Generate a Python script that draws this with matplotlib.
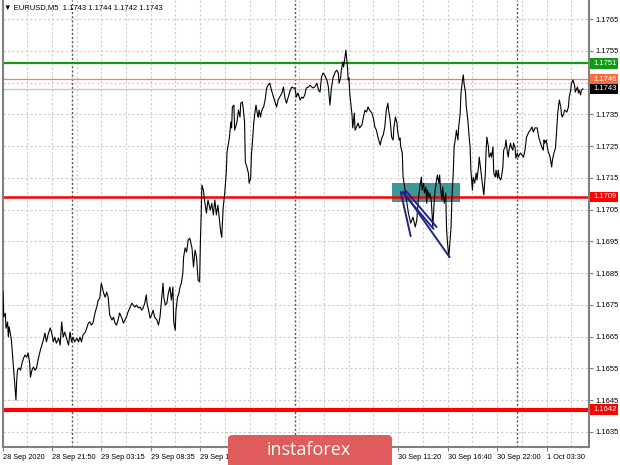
import matplotlib
matplotlib.use("Agg")
import matplotlib.pyplot as plt
from matplotlib.patches import FancyBboxPatch, Rectangle

plt.rcParams['font.family'] = ['Liberation Sans', 'DejaVu Sans']

# EURUSD M5 closes (x = bar number from the left edge)
bars_a = [0, 1, 3, 4, 6, 7, 8, 10, 11, 13,
          14, 17, 18, 19, 21, 23, 25, 27, 29, 31,
          33, 35, 36, 38, 40, 42, 44, 46, 49, 51,
          53, 55, 57, 59, 62, 64, 66, 68, 70, 73,
          75, 77, 79, 81, 84, 86, 88, 90, 92, 94,
          97, 99, 101, 103, 105, 108, 110, 112, 114, 116,
          118, 121, 123, 125, 127, 129, 132, 134, 136, 138]
close_a = [1.16791, 1.16712, 1.16723, 1.16676, 1.16696, 1.16649, 1.16681, 1.16655, 1.16639, 1.16576,
           1.16544, 1.16450, 1.16513, 1.16544, 1.16551, 1.16544, 1.16566, 1.16582, 1.16592, 1.16585,
           1.16598, 1.16566, 1.16522, 1.16544, 1.16554, 1.16544, 1.16551, 1.16576, 1.16607, 1.16623,
           1.16639, 1.16661, 1.16633, 1.16655, 1.16677, 1.16661, 1.16633, 1.16648, 1.16629, 1.16645,
           1.16623, 1.16696, 1.16648, 1.16664, 1.16639, 1.16623, 1.16664, 1.16633, 1.16648, 1.16633,
           1.16645, 1.16633, 1.16648, 1.16633, 1.16655, 1.16664, 1.16677, 1.16692, 1.16696, 1.16686,
           1.16692, 1.16727, 1.16743, 1.16765, 1.16771, 1.16818, 1.16787, 1.16774, 1.16790, 1.16774]

bars_b = [140, 143, 145, 147, 149, 151, 153, 156, 158, 160,
          162, 164, 167, 169, 171, 173, 175, 178, 180, 182,
          184, 186, 188, 189, 191, 193, 195, 197, 199, 202,
          204, 206, 208, 210, 211, 213, 215, 217, 219, 221,
          223, 224, 226, 227, 229, 231, 232, 234, 236, 237,
          239, 241, 243, 245, 248, 250, 252, 254, 256, 258,
          259, 260, 261, 263, 264, 265, 267, 269, 272, 274,
          276, 278, 280, 282, 285, 286, 287, 289, 291, 293,
          294]
close_b = [1.16718, 1.16702, 1.16711, 1.16692, 1.16686, 1.16702, 1.16724, 1.16708, 1.16692, 1.16702,
           1.16711, 1.16727, 1.16743, 1.16755, 1.16749, 1.16743, 1.16749, 1.16740, 1.16743, 1.16733,
           1.16740, 1.16755, 1.16781, 1.16755, 1.16733, 1.16708, 1.16718, 1.16733, 1.16711, 1.16702,
           1.16686, 1.16711, 1.16765, 1.16818, 1.16774, 1.16749, 1.16755, 1.16787, 1.16806, 1.16765,
           1.16806, 1.16696, 1.16670, 1.16733, 1.16774, 1.16787, 1.16803, 1.16818, 1.16850, 1.16900,
           1.16929, 1.16916, 1.16954, 1.16960, 1.16929, 1.16869, 1.16922, 1.16900, 1.16828, 1.16822,
           1.16944, 1.17026, 1.17127, 1.17111, 1.17089, 1.17070, 1.17039, 1.17080, 1.17048, 1.17070,
           1.17033, 1.17080, 1.17033, 1.17064, 1.16995, 1.16976, 1.16963, 1.17058, 1.17102, 1.17168,
           1.17231]

bars_c = [297, 299, 300, 301, 303, 304, 306, 307, 309, 311,
          312, 314, 315, 317, 318, 320, 322, 323, 325, 326,
          328, 329, 331, 332, 334, 335, 336, 338, 339, 341,
          342, 344, 346, 348, 350, 353, 355, 357, 359, 361,
          363, 366, 368, 370, 372, 374, 377, 379, 381, 383,
          385, 387, 390, 392, 394, 396, 398, 401, 403, 405,
          407, 409, 412, 414, 416, 418, 420, 422, 425, 427,
          429, 431, 433, 436, 438, 440, 441, 443, 444, 446,
          447, 450, 452, 453, 454, 455, 458, 459, 461, 462,
          464, 466, 468, 471, 473, 475, 477, 479, 481, 484,
          486, 488, 490, 492, 495, 497, 499]
close_c = [1.17275, 1.17326, 1.17307, 1.17373, 1.17379, 1.17300, 1.17316, 1.17326, 1.17363, 1.17341,
           1.17385, 1.17389, 1.17373, 1.17326, 1.17200, 1.17184, 1.17165, 1.17133, 1.17149, 1.17222,
           1.17285, 1.17322, 1.17363, 1.17379, 1.17348, 1.17341, 1.17363, 1.17341, 1.17357, 1.17370,
           1.17373, 1.17395, 1.17433, 1.17442, 1.17448, 1.17420, 1.17404, 1.17389, 1.17373, 1.17395,
           1.17404, 1.17417, 1.17436, 1.17401, 1.17385, 1.17401, 1.17426, 1.17436, 1.17433, 1.17433,
           1.17404, 1.17417, 1.17395, 1.17404, 1.17401, 1.17411, 1.17433, 1.17436, 1.17442, 1.17436,
           1.17433, 1.17436, 1.17448, 1.17426, 1.17420, 1.17467, 1.17480, 1.17474, 1.17458, 1.17436,
           1.17379, 1.17433, 1.17464, 1.17483, 1.17489, 1.17480, 1.17448, 1.17464, 1.17489, 1.17515,
           1.17499, 1.17552, 1.17499, 1.17458, 1.17464, 1.17417, 1.17348, 1.17307, 1.17354, 1.17300,
           1.17310, 1.17322, 1.17307, 1.17316, 1.17341, 1.17363, 1.17357, 1.17373, 1.17363, 1.17354,
           1.17338, 1.17310, 1.17300, 1.17278, 1.17253, 1.17275, 1.17285]

bars_d = [501, 503, 505, 506, 508, 510, 512, 513, 515, 517,
          518, 520, 521, 522, 524, 525, 527, 528, 530, 532,
          535, 538, 541, 543, 545, 547, 549, 550, 552, 553,
          555, 556, 557, 559, 560, 562, 564, 566, 567, 569,
          570, 572, 573, 574, 576, 577, 579, 581, 582, 583,
          585, 586, 588, 589, 591, 592, 594, 595, 597, 598,
          600, 601, 603, 604, 605, 607, 608, 610, 612]
close_d = [1.17310, 1.17363, 1.17385, 1.17363, 1.17332, 1.17278, 1.17269, 1.17310, 1.17341, 1.17322,
           1.17294, 1.17269, 1.17275, 1.17247, 1.17228, 1.17152, 1.17121, 1.17102, 1.17070, 1.17039,
           1.17007, 1.17026, 1.16995, 1.17017, 1.17080, 1.17121, 1.17152, 1.17111, 1.17133, 1.17102,
           1.17121, 1.17070, 1.17111, 1.17089, 1.17102, 1.17080, 1.16995, 1.17080, 1.17111, 1.17143,
           1.17159, 1.17133, 1.17159, 1.17121, 1.17080, 1.17121, 1.17070, 1.17102, 1.16995, 1.16954,
           1.16900, 1.16932, 1.16995, 1.17080, 1.17174, 1.17247, 1.17278, 1.17300, 1.17269, 1.17310,
           1.17354, 1.17417, 1.17458, 1.17474, 1.17448, 1.17417, 1.17373, 1.17332, 1.17269]

bars_e = [613, 614, 616, 617, 619, 621, 622, 624, 625, 627,
          628, 629, 631, 633, 634, 635, 637, 638, 640, 641,
          643, 644, 646, 647, 649, 650, 651, 653, 654, 656,
          657, 659, 660, 662, 663, 664, 666, 667, 669, 670,
          672, 673, 675, 676, 679, 681, 683, 685, 687, 690,
          692, 694, 696, 698, 701, 703, 705, 707, 709, 710,
          711, 713, 715, 718, 720, 721, 723, 725, 726, 728,
          730, 732, 733, 734, 736, 737, 740, 742, 743, 745,
          746, 748, 750, 751, 752, 754, 755, 756, 758, 759,
          761]
close_e = [1.17247, 1.17174, 1.17111, 1.17152, 1.17133, 1.17165, 1.17143, 1.17184, 1.17215, 1.17174,
           1.17152, 1.17133, 1.17096, 1.17165, 1.17237, 1.17278, 1.17247, 1.17215, 1.17228, 1.17215,
           1.17247, 1.17165, 1.17152, 1.17174, 1.17149, 1.17174, 1.17152, 1.17143, 1.17152, 1.17184,
           1.17237, 1.17247, 1.17269, 1.17228, 1.17215, 1.17237, 1.17259, 1.17247, 1.17237, 1.17259,
           1.17244, 1.17212, 1.17228, 1.17215, 1.17228, 1.17222, 1.17215, 1.17237, 1.17278, 1.17294,
           1.17300, 1.17310, 1.17294, 1.17307, 1.17307, 1.17278, 1.17263, 1.17247, 1.17237, 1.17269,
           1.17259, 1.17269, 1.17237, 1.17215, 1.17184, 1.17206, 1.17228, 1.17244, 1.17278, 1.17354,
           1.17395, 1.17373, 1.17348, 1.17341, 1.17354, 1.17363, 1.17357, 1.17373, 1.17404, 1.17426,
           1.17448, 1.17458, 1.17442, 1.17420, 1.17426, 1.17436, 1.17417, 1.17426, 1.17411, 1.17426,
           1.17430]

bars = bars_a + bars_b + bars_c + bars_d + bars_e
close = close_a + close_b + close_c + close_d + close_e

# axis labels (the ones under the watermark are not visible, left blank)
x_ticks = [0, 64, 129, 194, 258, 324, 389, 454, 518, 584, 648, 714]
x_labels = ["28 Sep 2020", "28 Sep 21:50", "29 Sep 03:15", "29 Sep 08:35",
            "29 Sep 13:55", "", "", "",
            "30 Sep 11:20", "30 Sep 16:40", "30 Sep 22:00", "1 Oct 03:30"]
day_breaks = [91, 383, 674]
y_ticks = [1.1635, 1.1645, 1.1655, 1.1665, 1.1675, 1.1685, 1.1695,
           1.1705, 1.1715, 1.1725, 1.1735, 1.1745, 1.1755, 1.1765]
hidden_y = [1.1745]  # covered by the price tags

# horizontal levels: price, colour, width
levels = [(1.1751, '#139a13', 1.6),
          (1.1746, '#ff7f50', 0.9),
          (1.1743, '#c4c4c4', 0.9),
          (1.1709, '#ff0000', 1.8),
          (1.1642, '#ff0000', 3.0)]
tags = [(1.1751, '#139a13'), (1.1746, '#ff6a3d'), (1.1743, '#000000'),
        (1.1709, '#ff0000'), (1.1642, '#ff0000')]

# teal zone and the hand-drawn trend lines
zone = (510, 600, 1.170745, 1.171325)
trend_lines = [(522, 1.17105, 535, 1.16966),
               (524, 1.17105, 565, 1.16989),
               (529, 1.17108, 569, 1.16995),
               (526, 1.17105, 586, 1.16900)]

fig = plt.figure(figsize=(6.2, 4.65), dpi=100)
fig.patch.set_facecolor('white')
ax = fig.add_axes([3 / 620, 18 / 465, 586 / 620, 447 / 465])
ax.set_xlim(0, 769)
ax.set_ylim(1.16302, 1.17710)

# grid
for y in y_ticks:
    ax.axhline(y, color='#cccccc', lw=0.8, ls=(0, (2, 2)), zorder=0)
grid_x = sorted(x_ticks + [(a + b) / 2 for a, b in zip(x_ticks[:-1], x_ticks[1:])] + [746])
for x in grid_x:
    ax.axvline(x, color='#cccccc', lw=0.8, ls=(0, (2, 2)), zorder=0)
for x in day_breaks:
    ax.axvline(x, color='#555555', lw=1.0, ls=(0, (1.5, 1.5)), zorder=0.5)

ax.add_patch(Rectangle((zone[0], zone[2]), zone[1] - zone[0], zone[3] - zone[2],
                       fc='#3f9898', ec='none', zorder=1))

for price, col, lw in levels:
    ax.axhline(price, color=col, lw=lw, zorder=2)

ax.plot(bars, close, color='black', lw=0.8, zorder=4)

for b0, p0, b1, p1 in trend_lines:
    ax.plot([b0, b1], [p0, p1], color='#22228c', lw=1.4, zorder=5, solid_capstyle='round')

for s in ['left', 'right', 'bottom']:
    ax.spines[s].set_color('#808080')
    ax.spines[s].set_linewidth(1.5)
ax.spines['top'].set_visible(False)

ax.yaxis.tick_right()
ax.set_yticks(y_ticks)
ax.set_yticklabels(['' if v in hidden_y else f'{v:.4f}' for v in y_ticks])
ax.tick_params(axis='y', labelsize=5.5, length=3, color='#808080', pad=2)
ax.set_xticks(x_ticks)
ax.set_xticklabels(x_labels)
for lab in ax.get_xticklabels():
    lab.set_ha('left')
ax.tick_params(axis='x', labelsize=5.3, length=3, color='#808080', pad=2)

# price tags on the right scale
ytrans = ax.get_yaxis_transform()
half = 0.00016
for price, col in tags:
    ax.add_patch(Rectangle((1.001, price - half), 28 / 586, 2 * half, transform=ytrans,
                           fc=col, ec='none', clip_on=False, zorder=9))
    ax.text(1 + 4 / 586, price, f'{price:.4f}', transform=ytrans, ha='left', va='center',
            fontsize=5.5, color='white', clip_on=False, zorder=10)

fig.text(4 / 620, 1 - 8 / 465, '\u25bc EURUSD,M5  1.1743 1.1744 1.1742 1.1743',
         fontsize=5.5, ha='left', va='center')

# watermark
fig.add_artist(FancyBboxPatch((228 / 620, -0.02), 164 / 620, 0.02 + 30 / 465,
                              boxstyle='round,pad=0,rounding_size=0.008',
                              transform=fig.transFigure, fc='#e05c5c', ec='none', zorder=20))
fig.text(309 / 620, 15 / 465, 'instaforex', color='white', fontsize=13,
         ha='center', va='center', family=['Open Sans', 'DejaVu Sans'], zorder=21)

fig.savefig('out.png', dpi=100)
